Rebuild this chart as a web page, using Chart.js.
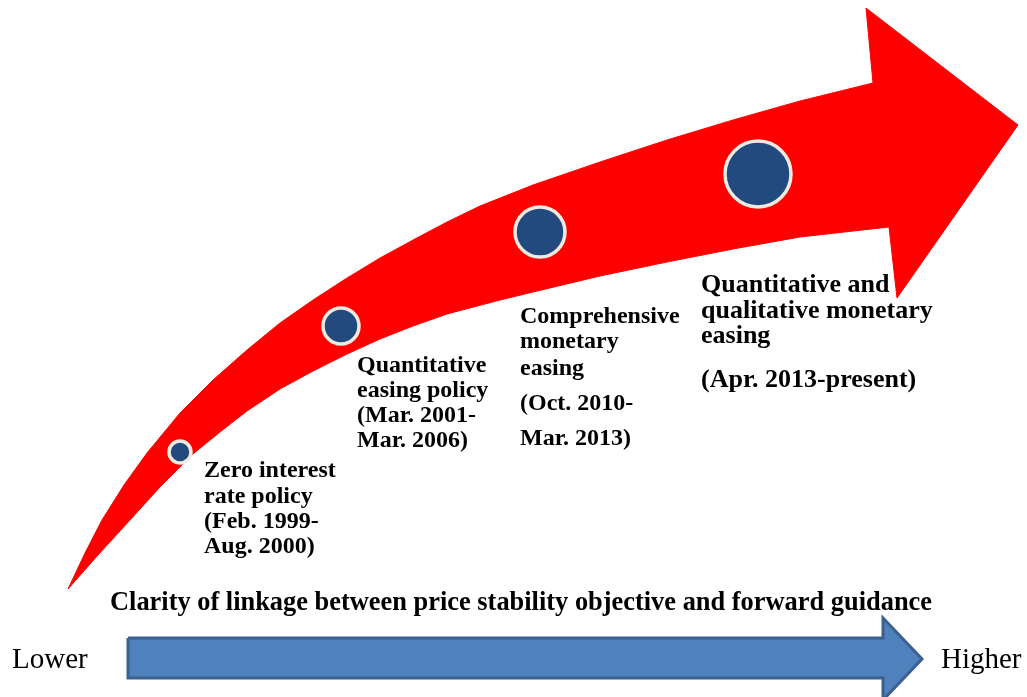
<!DOCTYPE html>
<html lang="en">
<head>
<meta charset="UTF-8">
<title>Monetary easing stages</title>
<script src="https://cdn.jsdelivr.net/npm/chart.js"></script>
<style>
  body { margin: 0; background: #fff; }
  #wrap { width: 1027px; height: 697px; }
</style>
</head>
<body>
<div id="wrap"><canvas id="myChart"></canvas></div>
<script>
// the axes are hidden and run 0..1027 / 0..697 (y downwards), so values are read straight off the picture
const stageX = [180, 341, 540, 758]
const stageY = [452, 326, 232, 174]
const stageR = [11, 18, 25, 33]

const stageLabels = [
  ['Zero interest', 'rate policy', '(Feb. 1999-', 'Aug. 2000)'],
  ['Quantitative', 'easing policy', '(Mar. 2001-', 'Mar. 2006)'],
  ['Comprehensive', 'monetary', 'easing', '(Oct. 2010-', 'Mar. 2013)'],
  ['Quantitative and', 'qualitative monetary', 'easing', '(Apr. 2013-present)']
]
const labelX = [204, 357, 520, 701]
const labelY = [
  [477, 503, 528, 553],
  [372, 397, 422, 447],
  [323, 348, 375, 410, 445],
  [292, 318, 343, 387]
]
const labelSize = [24, 24, 24, 26]

// red curved arrow outline: upper edge, head, lower edge back to the tail
const redArrowX = [68, 85, 102, 124, 147, 180, 213, 247, 280, 313, 347, 380, 413, 447, 480, 533, 600, 667, 733, 800, 873,
  866, 1018, 897, 889,
  800, 733, 667, 600, 533, 500, 447, 413, 380, 347, 313, 280, 247, 220, 193, 160, 130, 98, 68]
const redArrowY = [589, 553, 520, 485, 453, 413, 380, 350, 323, 300, 278, 258, 240, 222, 206, 185, 162, 140, 120, 101, 83,
  8, 125, 298, 227,
  237, 249, 262, 276, 292, 300, 314, 326, 339, 354, 371, 389, 411, 432, 454, 487, 520, 555, 589]

const blueArrowX = [128, 883, 883, 922, 883, 883, 128, 128]
const blueArrowY = [638, 638, 618, 659, 700, 678, 678, 638]

const caption = 'Clarity of linkage between price stability objective and forward guidance'
const endLabels = ['Lower', 'Higher']
const endLabelX = [12, 941]
const endLabelY = 668

const zip = (xs, ys) => xs.map((v, i) => ({ x: v, y: ys[i] }))

const textPlugin = {
  id: 'diagramText',
  afterDatasetsDraw(chart) {
    const { ctx, scales: { x, y } } = chart
    ctx.save()
    ctx.fillStyle = '#000'
    ctx.textBaseline = 'alphabetic'
    stageLabels.forEach((lines, i) => {
      ctx.font = 'bold ' + labelSize[i] + 'px "Liberation Serif"'
      lines.forEach((t, j) => {
        ctx.fillText(t, x.getPixelForValue(labelX[i]), y.getPixelForValue(labelY[i][j]))
      })
    })
    ctx.font = 'bold 27px "Liberation Serif"'
    ctx.fillText(caption, x.getPixelForValue(110), y.getPixelForValue(610), 822)
    ctx.font = '29px "Liberation Serif"'
    endLabels.forEach((t, i) => {
      ctx.fillText(t, x.getPixelForValue(endLabelX[i]), y.getPixelForValue(endLabelY))
    })
    ctx.restore()
  }
}

const chart = new Chart(
  document.getElementById('myChart'),
  {
    type: 'scatter',
    data: {
      datasets: [
        {
          type: 'bubble',
          label: 'Stages',
          data: stageX.map((v, i) => ({ x: v, y: stageY[i], r: stageR[i] })),
          backgroundColor: '#224A7E',
          borderColor: '#EEECE1',
          borderWidth: 3.5,
          order: 0
        },
        {
          label: 'Red arrow',
          data: zip(redArrowX, redArrowY),
          showLine: true,
          tension: 0,
          pointRadius: 0,
          fill: 'shape',
          backgroundColor: '#FF0000',
          borderColor: '#FF0000',
          borderWidth: 1,
          order: 1
        },
        {
          label: 'Blue arrow',
          data: zip(blueArrowX, blueArrowY),
          showLine: true,
          tension: 0,
          pointRadius: 0,
          fill: 'shape',
          backgroundColor: '#4F81BD',
          borderColor: '#3A6190',
          borderWidth: 3,
          borderJoinStyle: 'miter',
          order: 1
        }
      ]
    },
    options: {
      responsive: true,
      maintainAspectRatio: false,
      animation: false,
      events: [],
      layout: { padding: 0, autoPadding: false },
      plugins: {
        legend: { display: false },
        tooltip: { enabled: false }
      },
      scales: {
        x: { type: 'linear', min: 0, max: 1027, display: false },
        y: { type: 'linear', min: 0, max: 697, reverse: true, display: false }
      }
    },
    plugins: [textPlugin]
  })
</script>
</body>
</html>
